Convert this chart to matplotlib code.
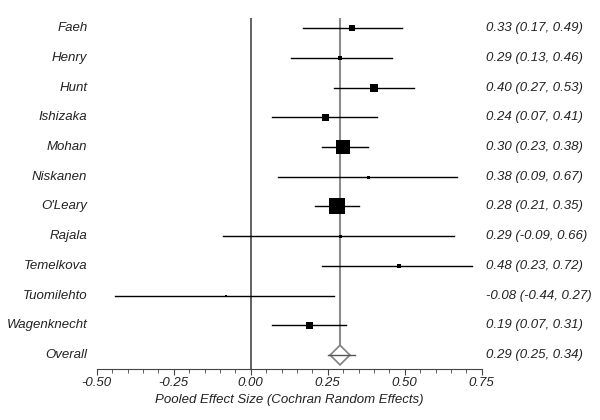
import matplotlib
matplotlib.use("Agg")
import matplotlib.pyplot as plt
from matplotlib.patches import Polygon
from matplotlib.ticker import MultipleLocator

plt.rcParams["font.family"] = ["Liberation Sans", "DejaVu Sans"]

studies = ["Faeh", "Henry", "Hunt", "Ishizaka", "Mohan", "Niskanen", "O'Leary",
           "Rajala", "Temelkova", "Tuomilehto", "Wagenknecht"]
effect = [0.33, 0.29, 0.40, 0.24, 0.30, 0.38, 0.28, 0.29, 0.48, -0.08, 0.19]
lower = [0.17, 0.13, 0.27, 0.07, 0.23, 0.09, 0.21, -0.09, 0.23, -0.44, 0.07]
upper = [0.49, 0.46, 0.53, 0.41, 0.38, 0.67, 0.35, 0.66, 0.72, 0.27, 0.31]
# marker box size (px), roughly the study weight
box_px = [6, 5, 8, 7, 14, 3, 16, 3, 4, 2.5, 7]

overall = 0.29
overall_lo = 0.25
overall_hi = 0.34

fig = plt.figure(figsize=(6, 4.2), dpi=100)
ax = fig.add_axes([96.7 / 600, 51 / 420, 385 / 600, 351 / 420])

n = len(studies)
ax.set_xlim(-0.5, 0.75)
ax.set_ylim(n + 0.47, -0.34)

# reference lines
ax.axvline(0, color="#555555", lw=1.3, zorder=1)
ax.plot([overall, overall], [-0.34, n - 0.33], color="#8c8c8c", lw=1.5, zorder=1)

for i in range(n):
    ax.plot([lower[i], upper[i]], [i, i], color="black", lw=1, zorder=2)
    ax.plot(effect[i], i, marker="s", color="black", ms=box_px[i] * 0.72,
            mew=0, zorder=3)

# overall diamond
hw = 0.032
hh = 0.33
diamond = Polygon([(overall - hw, n), (overall, n - hh), (overall + hw, n),
                   (overall, n + hh)], closed=True, facecolor="white",
                  edgecolor="#808080", lw=1.2, zorder=3)
ax.add_patch(diamond)
ax.plot([overall_lo, overall_hi], [n, n], color="#555555", lw=1, zorder=4)

labels = studies + ["Overall"]
estimates = effect + [overall]
lows = lower + [overall_lo]
highs = upper + [overall_hi]
for i, lab in enumerate(labels):
    ax.text(-0.53, i, lab, ha="right", va="center", style="italic",
            fontsize=9.5, color="#222222")
    ax.text(0.765, i, f"{estimates[i]:.2f} ({lows[i]:.2f}, {highs[i]:.2f})",
            ha="left", va="center", style="italic", fontsize=9.5, color="#222222")

for s in ["left", "right", "top"]:
    ax.spines[s].set_visible(False)
ax.spines["bottom"].set_color("#444444")
ax.set_yticks([])
ax.xaxis.set_major_locator(MultipleLocator(0.25))
ax.xaxis.set_minor_locator(MultipleLocator(0.05))
ax.tick_params(axis="x", which="major", length=4, color="#444444",
               labelsize=9.5, pad=2)
ax.tick_params(axis="x", which="minor", length=3, color="#444444")
ax.set_xticks([-0.5, -0.25, 0, 0.25, 0.5, 0.75])
ax.set_xticklabels(["-0.50", "-0.25", "0.00", "0.25", "0.50", "0.75"],
                   style="italic", color="#222222")
ax.set_xlabel("Pooled Effect Size (Cochran Random Effects)", style="italic",
              fontsize=9.5, color="#222222", labelpad=3)

fig.savefig("out.png")
